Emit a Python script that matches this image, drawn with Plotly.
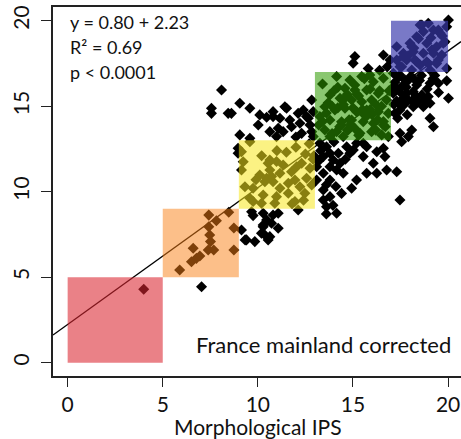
import plotly.graph_objects as go

# Observed scores: morphological IPS (x) against molecular IPS (y), grouped by area of the cloud
low_x = [4.0, 7.04, 5.89, 6.51, 6.77, 6.95, 6.6, 7.39, 7.68, 8.74, 7.51, 7.47, 7.42, 8.74, 7.82, 7.42, 8.47, 9.14, 9.33]
low_y = [4.29, 4.44, 5.42, 5.9, 6.1, 6.24, 6.69, 6.59, 6.59, 6.59, 7.08, 7.47, 7.95, 7.88, 8.3, 8.63, 8.8, 7.76, 7.18]

mid_low_x = [9.4, 9.84, 10.19, 10.28, 10.54, 11.07, 9.67, 10.28, 10.8, 11.07, 12.12, 10.46, 10.28, 10.72, 10.37, 10.63, 9.75]
mid_low_y = [7.18, 7.08, 7.57, 7.95, 7.18, 7.86, 8.83, 8.74, 8.64, 8.74, 8.93, 8.35, 8.05, 8.15, 7.47, 7.37, 8.6]

mid_x = [9.32, 10.1, 10.46, 10.8, 10.63, 11.16, 11.33, 11.77, 12.04, 12.3, 12.74, 11.6, 11.95, 12.21, 12.56,
         12.83, 11.16, 10.28, 10.98, 9.58, 9.75, 10.89, 10.19, 11.6, 12.47, 11.95, 10.54, 10.98, 9.58, 9.14,
         9.23, 10.63, 9.14, 10.72, 10.37, 9.75, 11.5, 12.0, 12.5, 11.0, 10.2, 12.7, 11.8, 12.4, 9.9, 12.9]
mid_y = [10.29, 10.98, 10.78, 10.58, 11.27, 11.08, 11.56, 11.17, 11.46, 11.66, 11.37, 10.49, 10.68, 10.29, 10.78,
         10.39, 10.2, 9.81, 9.71, 9.61, 9.42, 9.32, 9.32, 9.91, 9.91, 9.42, 11.66, 11.76, 12.92, 12.34,
         11.75, 11.85, 11.27, 10.88, 10.58, 10.2, 12.3, 12.6, 12.2, 12.4, 12.1, 12.8, 9.3, 9.5, 10.7, 11.9]

upper_left_x = [8.09, 7.56, 7.56, 8.44, 9.05, 9.58, 10.1, 10.46, 10.8, 10.02, 10.63, 11.07, 9.05, 9.58, 8.96,
                8.96, 10.8, 11.16, 11.51, 12.12, 12.56, 12.91, 12.83, 11.77, 11.33, 12.21, 12.74, 12.83, 10.98,
                8.61, 11.42, 12.39, 11.68, 12.65, 12.3, 12.91, 12.0]
upper_left_y = [15.95, 14.88, 14.58, 14.58, 15.17, 14.88, 14.49, 14.35, 14.39, 13.9, 13.51, 13.71, 13.32, 13.12, 12.54,
                12.25, 14.68, 14.29, 14.88, 14.58, 14.39, 14.68, 15.36, 13.8, 13.51, 14.0, 13.9, 13.51, 13.22,
                14.58, 14.97, 14.78, 14.19, 14.29, 13.41, 13.22, 13.2]

middle_right_x = [13.26, 13.61, 13.79, 13.44, 13.96, 14.32, 13.79, 14.14, 14.49, 13.44, 13.79, 14.67, 15.19, 15.72,
                  14.84, 15.54, 16.25, 16.68, 16.07, 16.77, 17.3, 15.19, 15.72, 16.25, 13.44, 13.79, 13.44, 13.61,
                  14.14, 17.47, 13.09, 13.09, 14.23, 15.02, 15.54, 16.6, 14.93, 13.3, 14.0, 13.2, 14.1, 13.6,
                  14.6, 13.95, 14.4, 12.95, 13.6]
middle_right_y = [12.83, 12.63, 12.25, 12.05, 11.85, 11.66, 11.46, 11.27, 11.08, 11.08, 10.68, 12.63, 12.83, 12.63,
                  12.25, 12.05, 12.34, 12.05, 11.66, 11.27, 11.17, 10.68, 11.08, 11.08, 10.1, 9.71, 9.51, 9.12,
                  8.74, 9.51, 11.46, 10.68, 12.25, 12.44, 12.83, 12.54, 10.2, 12.4, 12.9, 11.8, 10.3, 10.4,
                  11.9, 9.2, 9.9, 12.1, 8.7]

upper_x = [14.14, 14.84, 15.46, 16.07, 16.6, 14.58, 15.1, 15.72, 16.33, 13.79, 14.32, 14.93, 15.46, 15.98, 16.77,
           13.52, 14.05, 14.58, 15.19, 15.72, 16.33, 16.86, 13.26, 13.79, 14.4, 14.93, 15.54, 16.07, 16.6, 13.52,
           14.14, 14.75, 15.37, 15.98, 16.51, 13.79, 14.49, 16.86, 15.1, 15.89, 13.4, 14.2, 14.7, 15.3, 15.9,
           16.4, 16.9, 13.9, 14.5, 15.0, 15.6, 16.2, 13.2, 14.9, 15.7, 16.3, 14.3, 16.7, 13.6, 15.3,
           13.7, 14.0, 14.6, 15.2, 15.5, 16.0, 16.5, 14.2, 14.8, 15.9, 16.2, 13.4, 14.4, 15.1, 16.6, 13.9, 14.7, 15.6]
upper_y = [16.73, 16.53, 16.73, 16.43, 16.63, 16.05, 15.95, 15.95, 15.75, 15.66, 15.46, 15.36, 15.26, 15.36, 15.36,
           14.97, 14.78, 14.88, 14.68, 14.78, 14.68, 14.58, 14.39, 14.19, 14.09, 14.19, 14.09, 14.0, 13.9, 13.61,
           13.51, 13.61, 13.41, 13.51, 13.32, 13.22, 13.22, 13.22, 16.24, 16.82, 16.3, 16.1, 15.7, 15.6, 16.0,
           15.9, 15.9, 15.0, 15.1, 14.9, 14.5, 15.1, 13.9, 13.9, 14.4, 14.2, 13.8, 13.8, 14.6, 13.3,
           15.2, 15.9, 15.5, 15.7, 14.8, 14.5, 15.0, 14.9, 14.2, 14.8, 13.6, 14.1, 13.9, 13.7, 14.1, 13.4, 13.6, 16.6]

upper_right_x = [17.47, 17.74, 18.35, 19.05, 19.49, 19.93, 17.3, 17.82, 18.17, 18.62, 18.96, 17.91, 18.44, 17.47,
                 19.05, 17.47, 20.02, 19.05, 19.23, 17.47, 18.09, 17.91, 17.56, 17.12, 17.12, 17.65, 18.17, 18.7,
                 17.21, 18.0, 18.6, 19.3, 17.2, 18.9, 17.5, 18.3, 17.3, 18.8, 19.5, 15.1, 15.01, 16.6, 16.95,
                 15.8, 16.4, 16.8, 17.1, 17.6, 17.9, 18.2, 17.4, 17.8, 18.5, 17.15, 17.7, 18.1, 19.2, 17.35, 17.85]
upper_right_y = [16.82, 16.53, 16.24, 16.34, 16.34, 16.49, 16.05, 15.75, 15.85, 15.66, 15.56, 15.36, 15.26, 15.07,
                 15.17, 14.78, 15.46, 14.29, 13.8, 13.41, 13.61, 13.22, 12.92, 16.92, 15.75, 15.46, 14.97, 14.97,
                 14.58, 16.7, 16.8, 16.8, 16.4, 16.0, 15.8, 15.6, 15.3, 15.4, 15.8, 17.9, 17.51, 17.99, 17.7,
                 17.2, 17.1, 17.3, 16.1, 16.2, 16.5, 16.6, 16.7, 16.1, 16.5, 15.1, 15.1, 15.3, 16.6, 14.3, 14.5]

top_x = [18.53, 18.96, 19.23, 18.7, 19.58, 19.93, 18.35, 18.0, 18.88, 19.4, 19.84, 17.65, 18.17, 18.7, 19.23,
         17.3, 17.82, 18.35, 18.96, 19.49, 17.56, 18.09, 17.3, 18.62, 19.49, 19.75, 18.09, 19.67, 17.65, 18.26,
         18.88, 19.4, 17.47, 18.53, 19.05, 19.93, 20.02, 18.45, 19.1, 19.7, 18.2, 17.9, 19.15]
top_y = [19.75, 19.85, 19.46, 19.36, 19.26, 19.65, 19.06, 18.68, 18.68, 18.48, 18.77, 18.09, 18.19, 18.09, 18.09,
         17.7, 17.7, 17.6, 17.5, 17.7, 17.31, 17.12, 18.48, 19.75, 19.46, 18.68, 18.48, 17.99, 17.89, 17.7,
         17.6, 17.5, 17.31, 17.41, 17.12, 17.21, 20.04, 18.95, 19.0, 19.1, 18.4, 17.95, 18.3]

# Fitted regression and its reported statistics
intercept = 2.23
slope = 0.80
fit_labels = ["y = 0.80 + 2.23", "R² = 0.69", "p < 0.0001"]
panel_label = "France mainland corrected"
x_title = "Morphological IPS"

# Class boxes: (x0, x1, y0, y1, fill)
classes = [
    (0, 5, 0, 5, "rgba(218,38,48,0.58)"),
    (5, 9, 5, 9, "rgba(250,128,20,0.5)"),
    (9, 13, 9, 13, "rgba(248,232,30,0.55)"),
    (13, 17, 13, 17, "rgba(46,155,0,0.56)"),
    (17, 20, 17, 20, "rgba(58,58,172,0.68)"),
]

tick_vals = [0, 5, 10, 15, 20]
x_range = [-0.77, 20.68]
y_range = [-0.78, 20.8]

FONT = "Lato, 'Open Sans', sans-serif"

xs = low_x + mid_low_x + mid_x + upper_left_x + middle_right_x + upper_x + upper_right_x + top_x
ys = low_y + mid_low_y + mid_y + upper_left_y + middle_right_y + upper_y + upper_right_y + top_y

fig = go.Figure()

fig.add_trace(go.Scatter(
    x=xs, y=ys, mode="markers",
    marker=dict(symbol="diamond", size=8.5, color="black", line=dict(width=0)),
    hoverinfo="skip", showlegend=False,
))

fit_x = [x_range[0], x_range[1]]
fig.add_trace(go.Scatter(
    x=fit_x, y=[intercept + slope * v for v in fit_x], mode="lines",
    line=dict(color="black", width=1.3), hoverinfo="skip", showlegend=False,
))

for x0, x1, y0, y1, fill in classes:
    fig.add_shape(type="rect", x0=x0, x1=x1, y0=y0, y1=y1, xref="x", yref="y",
                  fillcolor=fill, line=dict(width=0), layer="above")

for label, yv in zip(fit_labels, [19.92, 18.46, 17.0]):
    fig.add_annotation(x=0, y=yv, xref="x", yref="y", text=label, showarrow=False,
                       xanchor="left", yanchor="middle", font=dict(family=FONT, size=18, color="#111"))

fig.add_annotation(x=20.26, y=1.04, xref="x", yref="y", text=panel_label, showarrow=False,
                   xanchor="right", yanchor="middle", font=dict(family=FONT, size=22, color="#111"))

# Axis title placed just under the tick labels
fig.add_annotation(x=10, y=-0.136, xref="x", yref="paper", text=x_title, showarrow=False,
                   xanchor="center", yanchor="middle", font=dict(family=FONT, size=21, color="#111"))

fig.update_xaxes(
    range=x_range, tickvals=tick_vals, ticks="outside", ticklen=9, tickwidth=1.3, tickcolor="#222",
    showline=True, linecolor="#222", linewidth=1.5, mirror=True, showgrid=False, zeroline=False,
    tickfont=dict(family=FONT, size=21, color="#111"),
)
fig.update_yaxes(
    range=y_range, tickvals=tick_vals, ticks="outside", ticklen=10, tickwidth=1.3, tickcolor="#222",
    showline=True, linecolor="#222", linewidth=1.5, mirror=False, showgrid=False, zeroline=False,
    tickangle=-90, ticklabelstandoff=4, tickfont=dict(family=FONT, size=21, color="#111"),
)

fig.update_layout(
    width=461, height=439,
    margin=dict(l=53, r=0, t=7, b=63),
    paper_bgcolor="white", plot_bgcolor="white",
)

fig.write_html("out.html")
